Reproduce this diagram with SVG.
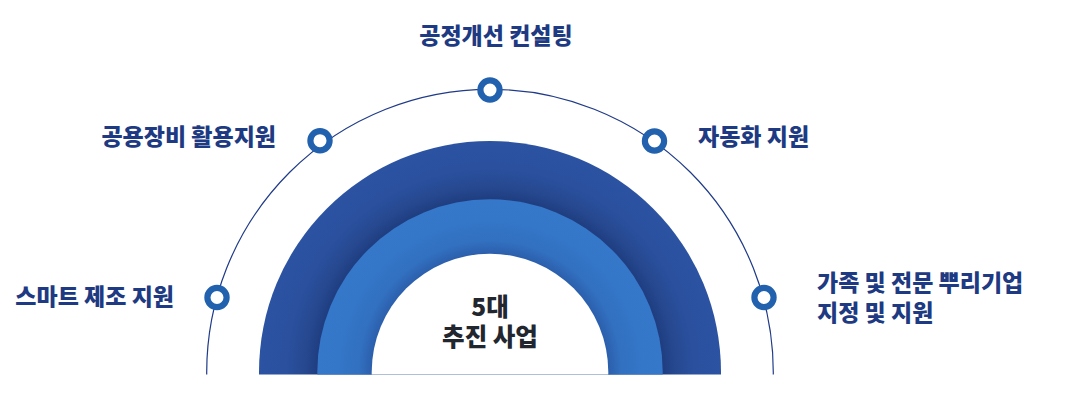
<svg xmlns="http://www.w3.org/2000/svg" width="1086" height="403" viewBox="0 0 1086 403">
  <style>
    .lbl { font-family: "Noto Sans CJK KR", "Noto Sans", sans-serif; font-weight: 900; font-size: 23px; fill: #1d3a82; }
    .ctr { font-family: "Noto Sans CJK KR", "Noto Sans", sans-serif; font-weight: 900; font-size: 24.5px; fill: #22262e; text-anchor: middle; }
    .ring { fill: #ffffff; stroke: #2261ae; stroke-width: 6.2; }
    .orbit { fill: none; stroke: #1f3a88; stroke-width: 1.2; }
  </style>
  <defs>
    <clipPath id="cut">
      <rect x="0" y="0" width="1086" height="374.5"/>
    </clipPath>
    <radialGradient id="gDark" gradientUnits="userSpaceOnUse" cx="490" cy="372" r="231">
      <stop offset="0.745" stop-color="#1f3d80"/>
      <stop offset="0.80" stop-color="#26488f"/>
      <stop offset="0.88" stop-color="#2a509e"/>
      <stop offset="1" stop-color="#2b53a1"/>
    </radialGradient>
    <radialGradient id="gLight" gradientUnits="userSpaceOnUse" cx="490" cy="372" r="172.7">
      <stop offset="0.68" stop-color="#2b5eab"/>
      <stop offset="0.76" stop-color="#3270c0"/>
      <stop offset="0.88" stop-color="#3476c8"/>
      <stop offset="1" stop-color="#3577c9"/>
    </radialGradient>
  </defs>

  <g id="bands" clip-path="url(#cut)">
    <circle cx="490" cy="372" r="231" fill="url(#gDark)"/>
    <circle cx="490" cy="372" r="172.7" fill="url(#gLight)"/>
    <circle cx="490" cy="372" r="118.3" fill="#ffffff"/>
  </g>

  <g id="connectors" clip-path="url(#cut)">
    <circle class="orbit" cx="490" cy="372.6" r="283.3"/>
  </g>

  <g id="center">
    <text class="ctr" x="490" y="316">5대</text>
    <text class="ctr" x="490" y="346">추진 사업</text>
  </g>

  <g id="node-top">
    <circle class="ring" cx="490" cy="90" r="9.6"/>
    <text class="lbl" x="496" y="44" text-anchor="middle">공정개선 컨설팅</text>
  </g>

  <g id="node-top-left">
    <circle class="ring" cx="320" cy="140.7" r="9.6"/>
    <text class="lbl" x="276" y="145" text-anchor="end">공용장비 활용지원</text>
  </g>

  <g id="node-left">
    <circle class="ring" cx="217" cy="297.5" r="9.6"/>
    <text class="lbl" x="174" y="305" text-anchor="end">스마트 제조 지원</text>
  </g>

  <g id="node-top-right">
    <circle class="ring" cx="654.5" cy="141" r="9.6"/>
    <text class="lbl" x="698" y="145">자동화 지원</text>
  </g>

  <g id="node-right">
    <circle class="ring" cx="764" cy="297.5" r="9.6"/>
    <text class="lbl" x="817" y="291">가족 및 전문 뿌리기업</text>
    <text class="lbl" x="817" y="321">지정 및 지원</text>
  </g>
</svg>
